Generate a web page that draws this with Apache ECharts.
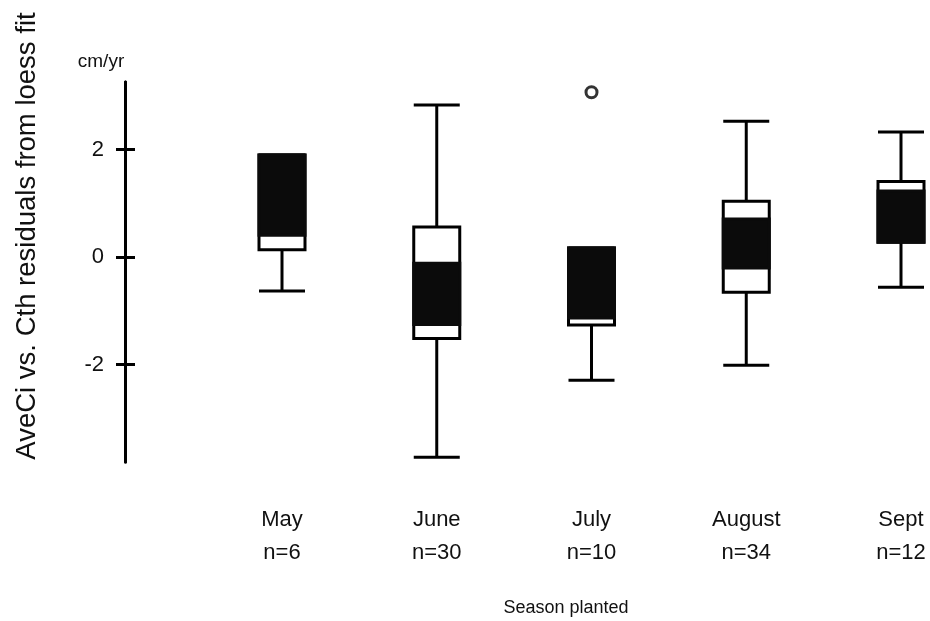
<!DOCTYPE html>
<html>
<head>
<meta charset="utf-8">
<script src="https://cdn.jsdelivr.net/npm/echarts@6/dist/echarts.min.js"></script>
<style>html,body{margin:0;padding:0;background:#fff}#c{width:930px;height:621px}</style>
</head>
<body>
<div id="c"></div>
<script>
// ---- data ----
var categories = ['May', 'June', 'July', 'August', 'Sept'];
var counts = [6, 30, 10, 34, 12];
var whiskerLow  = [-0.63, -3.72, -2.29, -2.01, -0.56];
var quart1      = [0.14, -1.51, -1.26, -0.65, 0.28];
var medians     = [1.15, -0.67, -0.48, 0.25, 0.75];
var quart3      = [1.90, 0.56, 0.17, 1.04, 1.41];
var whiskerHigh = [1.90, 2.83, 0.17, 2.53, 2.33];
var ciLow       = [0.41, -1.25, -1.13, -0.20, 0.28];
var ciHigh      = [1.90, -0.11, 0.17, 0.71, 1.23];
var outliers    = [[2, 3.07]];
var yTicks = [-2, 0, 2];

var boxData = categories.map(function (c, i) {
  return [i, whiskerLow[i], quart1[i], medians[i], quart3[i], whiskerHigh[i], ciLow[i], ciHigh[i]];
});

var chart = echarts.init(document.getElementById('c'));
var BW = 46, LW = 3;
function renderBox(params, api) {
  var i = api.value(0);
  var pMin = api.coord([i, api.value(1)]);
  var pQ1 = api.coord([i, api.value(2)]);
  var pQ3 = api.coord([i, api.value(4)]);
  var pMax = api.coord([i, api.value(5)]);
  var pCl = api.coord([i, Math.max(api.value(6), api.value(2))]);
  var pCh = api.coord([i, Math.min(api.value(7), api.value(4))]);
  var x = pQ1[0], h = BW / 2;
  var ls = {stroke: '#000', lineWidth: LW, fill: null};
  var children = [
    {type: 'line', shape: {x1: x, y1: pMax[1], x2: x, y2: pQ3[1]}, style: ls},
    {type: 'line', shape: {x1: x, y1: pQ1[1], x2: x, y2: pMin[1]}, style: ls},
    {type: 'line', shape: {x1: x - h, y1: pMax[1], x2: x + h, y2: pMax[1]}, style: ls},
    {type: 'line', shape: {x1: x - h, y1: pMin[1], x2: x + h, y2: pMin[1]}, style: ls},
    {type: 'rect', shape: {x: x - h, y: pQ3[1], width: BW, height: pQ1[1] - pQ3[1]},
      style: {fill: '#fff', stroke: '#000', lineWidth: LW}},
    {type: 'rect', shape: {x: x - h, y: pCh[1], width: BW, height: pCl[1] - pCh[1]},
      style: {fill: '#0b0b0b', stroke: '#0b0b0b', lineWidth: LW}}
  ];
  return {type: 'group', children: children};
}

var font = '"Liberation Sans", Arial, Helvetica, sans-serif';
var yBase = {
  type: 'value', position: 'left', min: -3.81, max: 3.26, offset: 157,
  splitLine: {show: false},
  axisLine: {show: true, lineStyle: {color: '#000', width: 3}}
};
var option = {
  animation: false,
  backgroundColor: '#fff',
  grid: {left: 282, right: 29, top: 82, bottom: 159},
  xAxis: {
    type: 'category', data: categories, boundaryGap: false,
    axisLine: {show: false}, axisTick: {show: false},
    axisLabel: {
      margin: 41, fontSize: 22, lineHeight: 33, color: '#111', fontFamily: font,
      formatter: function (v, idx) { return v + '\nn=' + counts[idx]; }
    }
  },
  yAxis: [
    Object.assign({}, yBase, {
      axisTick: {show: true, length: 9, lineStyle: {color: '#000', width: 3}, customValues: yTicks},
      axisLabel: {show: true, fontSize: 22, color: '#111', fontFamily: font, margin: 21, customValues: yTicks}
    }),
    Object.assign({}, yBase, {
      axisTick: {show: true, inside: true, length: 10, lineStyle: {color: '#000', width: 3}, customValues: yTicks},
      axisLabel: {show: false}
    })
  ],
  series: [
    {type: 'custom', renderItem: renderBox, data: boxData, encode: {x: 0, y: [1, 5]}, clip: false},
    {type: 'scatter', data: outliers, symbol: 'circle', symbolSize: 11,
      itemStyle: {color: '#fff', borderColor: '#000', borderWidth: 3}}
  ],
  graphic: [
    {type: 'text', x: 27, y: 236, rotation: Math.PI / 2,
      style: {text: 'AveCi vs. Cth residuals from loess fit', fontSize: 27.5, fontFamily: font, fill: '#111',
        align: 'center', verticalAlign: 'middle'}},
    {type: 'text', x: 101, y: 62,
      style: {text: 'cm/yr', fontSize: 19, fontFamily: font, fill: '#111', align: 'center', verticalAlign: 'middle'}},
    {type: 'text', x: 566, y: 608,
      style: {text: 'Season planted', fontSize: 18, fontFamily: font, fill: '#111', align: 'center', verticalAlign: 'middle'}}
  ]
};
chart.setOption(option);
</script>
</body>
</html>
